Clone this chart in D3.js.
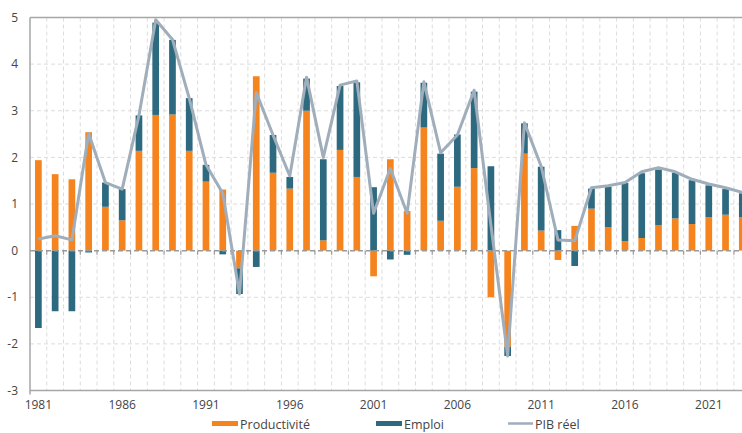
<!DOCTYPE html>
<html>
<head>
<meta charset="utf-8">
<script src="https://cdn.jsdelivr.net/npm/d3@7"></script>
<style>
  html, body { margin: 0; padding: 0; background: #fff; }
  svg { display: block; font-family: "Open Sans", "DejaVu Sans", sans-serif; }
</style>
</head>
<body>
<svg id="chart" width="742" height="433"></svg>
<script>
// Years
const years = d3.range(1981, 2024)

// Contribution de la productivité (orange)
const productivite = [
  1.94, 1.64, 1.53, 2.54, 0.94, 0.65, 2.14, 2.91, 2.92, 2.14,
  1.48, 1.31, -0.38, 3.74, 1.67, 1.33, 3.00, 0.22, 2.16, 1.58,
  -0.55, 1.96, 0.85, 2.64, 0.64, 1.37, 1.77, -1.00, -2.06, 2.08,
  0.43, -0.20, 0.53, 0.90, 0.50, 0.20, 0.27, 0.55, 0.69, 0.57,
  0.72, 0.77, 0.72
]

// Contribution de l'emploi (bleu)
const emploi = [
  -1.66, -1.30, -1.30, -0.04, 0.52, 0.67, 0.76, 1.98, 1.60, 1.13,
  0.36, -0.08, -0.55, -0.35, 0.81, 0.25, 0.69, 1.74, 1.37, 2.03,
  1.36, -0.19, -0.09, 0.96, 1.44, 1.12, 1.64, 1.81, -0.20, 0.65,
  1.37, 0.44, -0.33, 0.43, 0.87, 1.25, 1.39, 1.19, 0.98, 0.94,
  0.68, 0.55, 0.51
]

// PIB réel (ligne)
const pib = [
  0.25, 0.32, 0.23, 2.51, 1.46, 1.32, 2.90, 4.95, 4.53, 3.27,
  1.84, 1.23, -0.93, 3.39, 2.48, 1.60, 3.72, 2.00, 3.55, 3.64,
  0.80, 1.76, 0.80, 3.62, 2.10, 2.48, 3.44, 0.55, -2.26, 2.74,
  1.81, 0.23, 0.21, 1.35, 1.39, 1.46, 1.69, 1.78, 1.69, 1.53,
  1.43, 1.35, 1.25
]

const yTicks = d3.range(-3, 6)

const colors = {
  prod: '#f5841f',
  emploi: '#2d6a80',
  pib: '#a0adba',
  grid: '#dcdcdc',
  axis: '#a6a6a6',
  text: '#454545'
}

const svg = d3.select('#chart')

const margin = { left: 30, top: 17.5, bottom: 390.5 }
const bandW = 16.76

const x = d3.scaleBand()
  .domain(years)
  .range([margin.left, margin.left + years.length * bandW])
  .paddingInner(0)
  .paddingOuter(0)

const y = d3.scaleLinear()
  .domain([-3, 5])
  .range([margin.bottom, margin.top])

const plotRight = margin.left + years.length * bandW

// Horizontal grid
svg.append('g')
  .selectAll('line')
  .data(yTicks.filter(d => d != 0 && d != -3 && d != 5))
  .join('line')
  .attr('x1', margin.left)
  .attr('x2', plotRight)
  .attr('y1', d => y(d))
  .attr('y2', d => y(d))
  .style('stroke', colors.grid)
  .style('stroke-dasharray', '4,3')

// Vertical grid at band boundaries
svg.append('g')
  .selectAll('line')
  .data(years.slice(1))
  .join('line')
  .attr('x1', d => x(d))
  .attr('x2', d => x(d))
  .attr('y1', margin.top)
  .attr('y2', margin.bottom)
  .style('stroke', colors.grid)
  .style('stroke-dasharray', '4,3')

// Stacked bars
let stackData = years.map((yr, i) => ({ year: yr, prod: productivite[i], emploi: emploi[i] }))
const barW = bandW * 0.4

function segments(d) {
  let pos = 0, neg = 0
  let out = []
  for (let k of ['prod', 'emploi']) {
    let v = d[k]
    if (v >= 0) {
      out.push({ year: d.year, key: k, y0: pos, y1: pos + v })
      pos += v
    } else {
      out.push({ year: d.year, key: k, y0: neg + v, y1: neg })
      neg += v
    }
  }
  return out
}

svg.append('g')
  .selectAll('rect')
  .data(stackData.flatMap(segments))
  .join('rect')
  .attr('x', d => x(d.year) + (bandW - barW) / 2)
  .attr('width', barW)
  .attr('y', d => y(d.y1))
  .attr('height', d => y(d.y0) - y(d.y1))
  .style('fill', d => colors[d.key])

// Zero line with tick marks
svg.append('line')
  .attr('x1', margin.left)
  .attr('x2', plotRight)
  .attr('y1', y(0))
  .attr('y2', y(0))
  .style('stroke', '#9a9a9a')
  .style('stroke-width', 1.5)
  .style('stroke-dasharray', '5,3')

svg.append('g')
  .selectAll('line')
  .data(years.slice(1))
  .join('line')
  .attr('x1', d => x(d))
  .attr('x2', d => x(d))
  .attr('y1', y(0))
  .attr('y2', y(0) + 4)
  .style('stroke', '#9a9a9a')
  .style('stroke-width', 1.2)

// PIB line
const line = d3.line()
  .x((d, i) => x(years[i]) + bandW / 2)
  .y(d => y(d))

svg.append('path')
  .datum(pib)
  .attr('d', line)
  .style('fill', 'none')
  .style('stroke', colors.pib)
  .style('stroke-width', 3)
  .style('stroke-linejoin', 'round')

// Frame lines: top, bottom, left
svg.append('line')
  .attr('x1', margin.left).attr('x2', plotRight)
  .attr('y1', margin.top).attr('y2', margin.top)
  .style('stroke', colors.axis).style('stroke-width', 1.5)
svg.append('line')
  .attr('x1', margin.left).attr('x2', plotRight)
  .attr('y1', margin.bottom).attr('y2', margin.bottom)
  .style('stroke', colors.axis).style('stroke-width', 1.5)
svg.append('line')
  .attr('x1', margin.left).attr('x2', margin.left)
  .attr('y1', margin.top).attr('y2', margin.bottom + 4)
  .style('stroke', colors.axis).style('stroke-width', 1.5)

// Y labels
svg.append('g')
  .selectAll('text')
  .data(yTicks)
  .join('text')
  .attr('x', 18)
  .attr('y', d => y(d))
  .attr('dy', '0.35em')
  .attr('text-anchor', 'end')
  .style('font-size', '12px')
  .style('fill', colors.text)
  .text(d => d)

// X labels
svg.append('g')
  .selectAll('text')
  .data(years.filter(d => (d - 1981) % 5 == 0))
  .join('text')
  .attr('x', d => x(d) + bandW / 2)
  .attr('y', 409)
  .attr('text-anchor', 'middle')
  .style('font-size', '12px')
  .style('fill', colors.text)
  .text(d => d)

// Legend
const legendItems = [
  { label: 'Productivité', color: colors.prod, type: 'rect', x: 212 },
  { label: 'Emploi', color: colors.emploi, type: 'rect', x: 376 },
  { label: 'PIB réel', color: colors.pib, type: 'line', x: 508 }
]

let legend = svg.append('g')
legendItems.forEach(item => {
  if (item.type == 'rect') {
    legend.append('rect')
      .attr('x', item.x)
      .attr('y', 421)
      .attr('width', 26)
      .attr('height', 5)
      .style('fill', item.color)
  } else {
    legend.append('line')
      .attr('x1', item.x).attr('x2', item.x + 25)
      .attr('y1', 423.5).attr('y2', 423.5)
      .style('stroke', item.color)
      .style('stroke-width', 2.5)
  }
  legend.append('text')
    .attr('x', item.x + (item.type == 'rect' ? 28 : 27))
    .attr('y', 429)
    .style('font-size', '12.5px')
    .style('fill', colors.text)
    .text(item.label)
})
</script>
</body>
</html>
